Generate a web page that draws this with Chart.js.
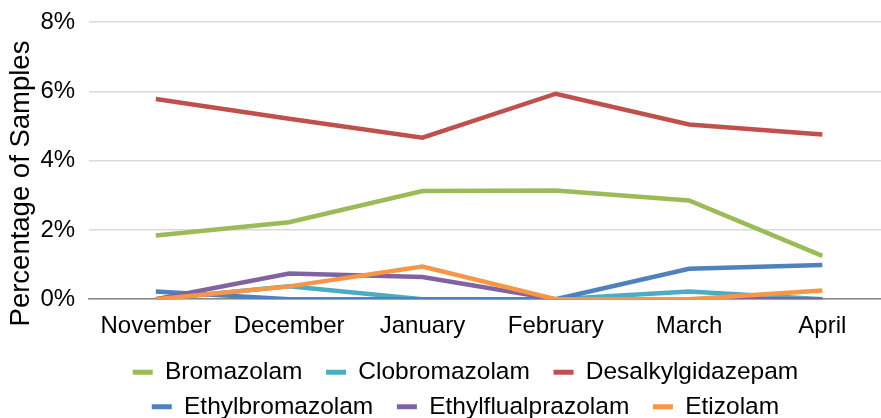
<!DOCTYPE html>
<html>
<head>
<meta charset="utf-8">
<script src="https://cdn.jsdelivr.net/npm/chart.js@4/dist/chart.umd.min.js"></script>
<style>
  html, body { margin: 0; padding: 0; background: #fff; overflow: hidden; }
  #wrap { width: 889px; height: 429px; position: relative; }
</style>
</head>
<body>
<div id="wrap"><canvas id="c"></canvas></div>
<script>
var months = ["November", "December", "January", "February", "March", "April"];

var bromazolam         = [1.84, 2.22, 3.12, 3.14, 2.85, 1.25];
var clobromazolam      = [0.00, 0.37, 0.00, 0.00, 0.22, 0.00];
var desalkylgidazepam  = [5.78, 5.21, 4.66, 5.93, 5.04, 4.75];
var ethylbromazolam    = [0.22, 0.00, 0.00, 0.00, 0.88, 0.99];
var ethylflualprazolam = [0.00, 0.74, 0.64, 0.00, 0.00, 0.00];
var etizolam           = [0.00, 0.37, 0.94, 0.00, 0.00, 0.25];

var yTicks = [0, 2, 4, 6, 8];

function series(label, data, color, order)
{
    return {
        label: label,
        data: data,
        borderColor: color,
        backgroundColor: color,
        borderWidth: 4.5,
        pointRadius: 0,
        tension: 0,
        order: order
    };
}

var family = "'Liberation Sans', Arial, sans-serif";
var font = { family: family, size: 24 };

// nudge the legend to the right, like the original layout
var legendShift = {
    id: "legendShift",
    afterLayout: function(chart) {
        chart.legend.left += 20;
        chart.legend.right += 20;
    }
};

new Chart(document.getElementById("c"), {
    type: "line",
    data: {
        labels: months,
        datasets: [
            series("Bromazolam", bromazolam, "#9BBB59", 6),
            series("Clobromazolam", clobromazolam, "#4BACC6", 5),
            series("Desalkylgidazepam", desalkylgidazepam, "#C0504D", 4),
            series("Ethylbromazolam", ethylbromazolam, "#4F81BD", 3),
            series("Ethylflualprazolam", ethylflualprazolam, "#8064A2", 2),
            series("Etizolam", etizolam, "#F79646", 1)
        ]
    },
    plugins: [legendShift],
    options: {
        responsive: true,
        maintainAspectRatio: false,
        animation: false,
        layout: { padding: { top: 22, right: 0, left: 15.5, bottom: 0 } },
        plugins: {
            tooltip: { enabled: false },
            legend: {
                position: "bottom",
                labels: {
                    font: { family: family, size: 24.5 },
                    color: "#000",
                    boxWidth: 20,
                    boxHeight: 5,
                    padding: 10,
                    generateLabels: function(chart) {
                        var items = Chart.defaults.plugins.legend.labels.generateLabels(chart);
                        items.forEach(function(it) { it.text = it.text + "  "; it.lineWidth = 0; });
                        return items;
                    },
                    sort: function(a, b) { return a.datasetIndex - b.datasetIndex; }
                }
            }
        },
        scales: {
            x: {
                offset: true,
                grid: { display: false, drawTicks: false },
                border: { display: true, color: "#868686", width: 1.5 },
                ticks: { font: font, color: "#000", padding: 13, maxRotation: 0, autoSkip: false },
                afterFit: function(axis) { axis.height = 50.8; }
            },
            y: {
                min: yTicks[0],
                max: yTicks[yTicks.length - 1],
                afterBuildTicks: function(axis) {
                    axis.ticks = yTicks.map(function(v) { return { value: v }; });
                },
                afterFit: function(axis) { axis.paddingTop = 0; },
                grid: { color: "#D9D9D9", lineWidth: 1.5, drawTicks: false },
                border: { display: false },
                ticks: {
                    font: font,
                    color: "#000",
                    padding: 14,
                    callback: function(v) { return v + "%"; }
                },
                title: {
                    display: true,
                    text: "Percentage of Samples      ",
                    font: { family: family, size: 27.5, lineHeight: 0.4 },
                    color: "#000",
                    padding: 0
                }
            }
        }
    }
});
</script>
</body>
</html>
